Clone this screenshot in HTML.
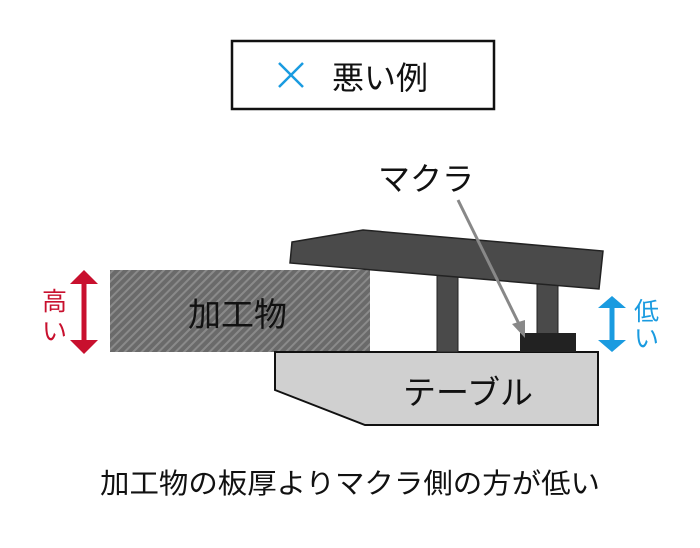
<!DOCTYPE html><html><head><meta charset="utf-8"><style>body{margin:0;background:#fff}</style></head><body>
<svg width="700" height="543" xmlns="http://www.w3.org/2000/svg" font-family="Liberation Sans, Noto Sans CJK JP, sans-serif">
<defs><pattern id="h" width="6" height="6" patternUnits="userSpaceOnUse" patternTransform="rotate(45)"><rect width="6" height="6" fill="#6a6a6a"/><rect width="2" height="6" fill="#8a8a8a"/></pattern></defs>
<rect x="232" y="41" width="262" height="68" fill="#fff" stroke="#111" stroke-width="2.5"/>
<path d="M279 63 L303 87 M303 63 L279 87" stroke="#1a9be0" stroke-width="2.5"/>
<text x="332" y="89" font-size="32" fill="#111">悪い例</text>
<text x="378" y="190" font-size="32" fill="#111">マクラ</text>
<rect x="110" y="270" width="260" height="82" fill="url(#h)"/>
<text x="188" y="326" font-size="33" fill="#111">加工物</text>
<path d="M275 352 L598 352 L598 425 L365 425 L275 390 Z" fill="#d0d0d0" stroke="#111" stroke-width="2"/>
<text x="403" y="404" font-size="33" fill="#111">テーブル</text>
<rect x="437" y="262" width="21" height="90" fill="#4a4a4a" stroke="#222"/>
<rect x="537" y="280" width="21" height="55" fill="#4a4a4a" stroke="#222"/>
<path d="M292 242 L363 230 L603 251 L599 289 L290 263 Z" fill="#4a4a4a" stroke="#222" stroke-width="1.5"/>
<rect x="520" y="333" width="56" height="19" fill="#222"/>
<line x1="458" y1="200" x2="520" y2="326" stroke="#888" stroke-width="3"/>
<path d="M525 338 L512 324 L525 320 Z" fill="#888"/>
<line x1="84" y1="282" x2="84" y2="342" stroke="#c8102e" stroke-width="5"/>
<path d="M70 284 L84 270 L98 284 Z M70 340 L84 354 L98 340 Z" fill="#c8102e"/>
<text x="42" y="310" font-size="25" fill="#c8102e">高</text>
<text x="42" y="340" font-size="25" fill="#c8102e">い</text>
<line x1="612" y1="306" x2="612" y2="342" stroke="#1a9be0" stroke-width="5"/>
<path d="M598 308 L612 296 L626 308 Z M598 340 L612 352 L626 340 Z" fill="#1a9be0"/>
<text x="634" y="320" font-size="25" fill="#1a9be0">低</text>
<text x="634" y="347" font-size="25" fill="#1a9be0">い</text>
<text x="350" y="493" font-size="28" fill="#111" text-anchor="middle" textLength="500" lengthAdjust="spacingAndGlyphs">加工物の板厚よりマクラ側の方が低い</text>
</svg></body></html>
